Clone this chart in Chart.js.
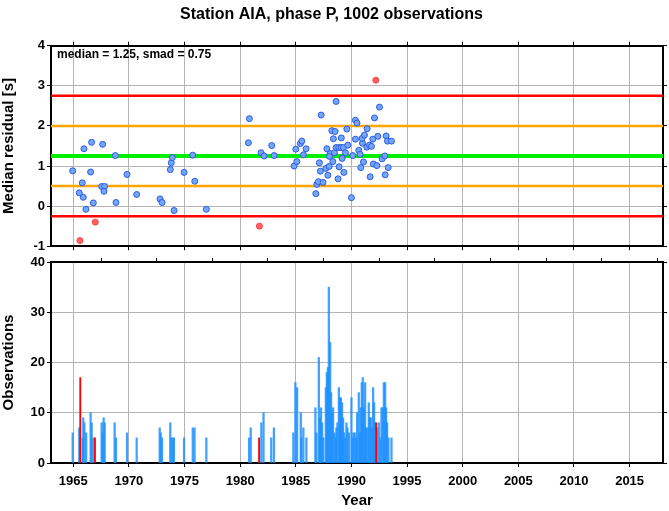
<!DOCTYPE html>
<html>
<head>
<meta charset="utf-8">
<script src="https://cdn.jsdelivr.net/npm/chart.js@4.4.1/dist/chart.umd.min.js"></script>
<style>
  body { margin: 0; background: #fff; }
  #wrap { position: relative; width: 669px; height: 511px; }
  #wrap canvas { position: absolute; left: 0; }
  #residChart { top: 0; }
  #obsChart { top: 250px; }
</style>
</head>
<body>
<div id="wrap">
  <canvas id="residChart" width="669" height="256"></canvas>
  <canvas id="obsChart" width="669" height="261"></canvas>
</div>
<script>
// median residual per time bin (blue points)
const residYears = [1964.95, 1965.96, 1966.65, 1967.64, 1968.78, 1966.56, 1965.81, 1965.54, 1965.90, 1966.80,
  1966.14, 1967.55, 1967.82, 1967.76, 1968.84, 1969.83, 1970.70, 1972.80, 1972.98, 1973.72,
  1973.81, 1973.90, 1974.06, 1974.96, 1975.74, 1975.92, 1976.96, 1980.83, 1980.74, 1981.88,
  1982.15, 1982.84, 1983.05, 1984.85, 1985.09, 1985.00, 1985.41, 1985.54, 1985.93, 1985.68,
  1986.80, 1986.89, 1987.03, 1987.45, 1987.12, 1987.21, 1987.28, 1987.70, 1987.88, 1988.00,
  1987.79, 1988.08, 1988.02, 1988.24, 1988.53, 1988.38, 1988.33, 1988.47, 1988.62, 1988.80,
  1988.89, 1989.09, 1989.16, 1989.32, 1988.62, 1988.86, 1989.07, 1989.28, 1989.46, 1989.59,
  1989.67, 1990.00, 1990.12, 1990.36, 1990.50, 1990.36, 1990.66, 1990.78, 1990.84, 1991.08,
  1990.99, 1990.96, 1991.17, 1991.41, 1991.38, 1991.62, 1991.68, 1991.80, 1991.92, 1991.98,
  1992.07, 1992.28, 1992.37, 1992.52, 1992.76, 1993.00, 1993.03, 1993.12, 1993.24, 1993.30,
  1993.60];
const residValues = [0.88, 1.43, 1.59, 1.54, 1.26, 0.85, 0.58, 0.33, 0.22, 0.08,
  -0.08, 0.49, 0.49, 0.37, 0.09, 0.79, 0.29, 0.18, 0.09, 0.91,
  1.08, 1.21, -0.11, 0.84, 1.27, 0.62, -0.08, 2.18, 1.58, 1.33,
  1.25, 1.51, 1.26, 1.00, 1.11, 1.42, 1.56, 1.62, 1.43, 1.28,
  0.31, 0.54, 0.61, 0.59, 1.08, 0.87, 2.27, 0.94, 0.77, 0.99,
  1.43, 1.31, 1.24, 1.88, 1.86, 1.68, 1.11, 1.33, 2.61, 0.68,
  0.98, 1.70, 1.19, 0.84, 1.46, 1.46, 1.46, 1.46, 1.33, 1.92,
  1.52, 0.21, 1.26, 2.14, 2.07, 1.67, 1.39, 1.29, 0.96, 1.10,
  1.57, 1.69, 1.77, 1.93, 1.47, 1.52, 0.73, 1.49, 1.67, 1.05,
  2.20, 1.01, 1.74, 2.47, 1.18, 1.25, 0.78, 1.75, 1.62, 0.96,
  1.62];

// bins outside median +/- 2 smad (red points)
const outlierYears = [1965.60, 1966.98, 1981.73, 1992.19];
const outlierValues = [-0.86, -0.40, -0.50, 3.14];

const median = 1.25;
const smad = 0.75;
const refLevels = [2.75, 2.0, 1.25, 0.5, -0.25];
const refColors = ['#ff0000', '#ffa500', '#00ee00', '#ffa500', '#ff0000'];
const refWidths = [2.5, 2.5, 4, 2.5, 2.5];

// observations per bin
const obsYears = [1964.95, 1965.54, 1965.85, 1965.90, 1966.00, 1966.16, 1966.56, 1966.65, 1966.80, 1967.55,
  1967.64, 1967.73, 1967.82, 1968.72, 1968.84, 1969.83, 1970.70, 1972.77, 1972.86, 1972.98,
  1973.72, 1973.81, 1973.96, 1974.05, 1974.96, 1975.74, 1975.90, 1976.96, 1980.80, 1980.95,
  1981.90, 1982.10, 1982.79, 1983.03, 1984.78, 1984.96, 1985.12, 1985.45, 1985.50, 1985.68,
  1985.95, 1986.76, 1986.85, 1987.07, 1987.16, 1987.27, 1987.37, 1987.48, 1987.70, 1987.79,
  1987.88, 1987.97, 1988.09, 1988.17, 1988.26, 1988.35, 1988.47, 1988.56, 1988.65, 1988.74,
  1988.87, 1988.96, 1989.05, 1989.16, 1989.25, 1989.34, 1989.46, 1989.55, 1989.64, 1989.77,
  1990.00, 1990.09, 1990.18, 1990.30, 1990.42, 1990.51, 1990.66, 1990.75, 1990.84, 1990.93,
  1991.02, 1991.11, 1991.23, 1991.32, 1991.44, 1991.56, 1991.65, 1991.74, 1991.86, 1991.95,
  1992.04, 1992.13, 1992.31, 1992.46, 1992.58, 1992.70, 1992.82, 1992.91, 1993.03, 1993.12,
  1993.21, 1993.33, 1993.60];
const obsCounts = [6, 7, 5, 9, 8, 6, 10, 8, 5, 8,
  6, 9, 8, 8, 5, 6, 5, 7, 6, 5,
  8, 5, 5, 5, 5, 7, 7, 5, 5, 7,
  8, 10, 5, 7, 6, 16, 15, 10, 5, 7,
  5, 11, 6, 21, 9, 11, 8, 5, 15, 18,
  19, 35, 24, 14, 10, 11, 6, 5, 7, 8,
  15, 13, 13, 12, 9, 6, 5, 8, 7, 6,
  13, 5, 6, 6, 5, 10, 14, 6, 11, 16,
  17, 11, 16, 7, 7, 12, 9, 9, 7, 15,
  12, 8, 7, 8, 5, 11, 11, 16, 16, 11,
  8, 5, 5];
const outlierObsYears = [1965.63, 1966.95, 1981.70, 1992.22];
const outlierObsCounts = [17, 5, 5, 8];

const xTickValues = [1965, 1970, 1975, 1980, 1985, 1990, 1995, 2000, 2005, 2010, 2015];
const xMin = 1963;
const xMax = 2018;

Chart.defaults.font.family = '"Liberation Sans", Arial, Helvetica, sans-serif';
Chart.defaults.color = '#000';

function toPoints(xs, ys) {
  return xs.map((x, i) => ({ x: x, y: ys[i] }));
}

const tickFont = { size: 13, weight: 'bold' };
const gridStyle = { color: '#b4b4b4', lineWidth: 1, tickColor: '#000', tickLength: 4 };
const borderStyle = { display: true, color: '#000', width: 2 };

function setXTicks(scale) {
  scale.ticks = xTickValues.map(v => ({ value: v }));
}

// frame axes on top / right, only for the border and the small outside ticks
function frameX(extra) {
  return Object.assign({
    type: 'linear', position: 'top', min: xMin, max: xMax,
    afterBuildTicks: setXTicks,
    ticks: { display: false },
    grid: { drawOnChartArea: false, tickColor: '#000', tickLength: 4 },
    border: borderStyle,
    afterFit: s => { s.height = 0; }
  }, extra || {});
}
function frameY(min, max, step) {
  return {
    type: 'linear', position: 'right', min: min, max: max,
    ticks: { display: false, stepSize: step },
    grid: { drawOnChartArea: false, tickColor: '#000', tickLength: 4 },
    border: borderStyle,
    afterFit: s => { s.width = 0; }
  };
}

const statsLabel = {
  id: 'statsLabel',
  afterDraw(chart) {
    const ctx = chart.ctx;
    const area = chart.chartArea;
    ctx.save();
    ctx.font = 'bold 12px "Liberation Sans", Arial, sans-serif';
    ctx.fillStyle = '#000';
    ctx.textBaseline = 'top';
    ctx.fillText('median = ' + median.toFixed(2) + ', smad = ' + smad.toFixed(2), area.left + 6, area.top + 3);
    ctx.restore();
  }
};

const refDatasets = refLevels.map((lvl, i) => ({
  type: 'line',
  data: [{ x: xMin, y: lvl }, { x: xMax, y: lvl }],
  borderColor: refColors[i],
  borderWidth: refWidths[i],
  pointRadius: 0,
  showLine: true
}));

const residChart = new Chart(document.getElementById('residChart'), {
  type: 'scatter',
  data: {
    datasets: [
      {
        data: toPoints(outlierYears, outlierValues),
        backgroundColor: '#ff6464',
        borderColor: '#ff4040',
        borderWidth: 1,
        pointRadius: 3
      },
      {
        data: toPoints(residYears, residValues),
        backgroundColor: '#74a6f8',
        borderColor: '#2c5be6',
        borderWidth: 1,
        pointRadius: 3
      }
    ].concat(refDatasets)
  },
  options: {
    responsive: false,
    animation: false,
    layout: { padding: { left: 0, right: 6, top: 0, bottom: 0 } },
    plugins: {
      legend: { display: false },
      tooltip: { enabled: false },
      title: {
        display: true,
        text: 'Station AIA, phase P, 1002 observations',
        font: { size: 16, weight: 'bold' },
        color: '#000',
        padding: { top: 5, bottom: 21.5 }
      }
    },
    scales: {
      x: {
        type: 'linear', min: xMin, max: xMax,
        afterBuildTicks: setXTicks,
        ticks: { display: false },
        grid: gridStyle,
        border: borderStyle,
        afterFit: s => { s.height = 9; }
      },
      y: {
        type: 'linear', min: -1, max: 4,
        ticks: { stepSize: 1, font: tickFont, padding: 2 },
        grid: gridStyle,
        border: borderStyle,
        title: { display: true, text: 'Median residual [s]', font: { size: 15, weight: 'bold' }, padding: { top: 0, bottom: 0 } },
        afterFit: s => { s.width = 51; }
      },
      x2: frameX(),
      y2: frameY(-1, 4, 1)
    }
  },
  plugins: [statsLabel]
});

const obsChart = new Chart(document.getElementById('obsChart'), {
  type: 'bar',
  data: {
    datasets: [
      {
        data: toPoints(outlierObsYears, outlierObsCounts),
        backgroundColor: '#ff0000',
        barThickness: 1.2,
        grouped: false
      },
      {
        data: toPoints(obsYears, obsCounts),
        backgroundColor: 'rgba(30,144,255,0.85)',
        barThickness: 1.6,
        grouped: false
      }
    ]
  },
  options: {
    responsive: false,
    animation: false,
    layout: { padding: { left: 0, right: 6, top: 12, bottom: 0 } },
    plugins: { legend: { display: false }, tooltip: { enabled: false } },
    scales: {
      x: {
        type: 'linear', min: xMin, max: xMax, offset: false,
        afterBuildTicks: setXTicks,
        ticks: { font: tickFont, padding: 7, maxRotation: 0, callback: v => String(v) },
        grid: Object.assign({ offset: false }, gridStyle),
        border: borderStyle,
        title: { display: true, text: 'Year', font: { size: 15, weight: 'bold' }, padding: { top: 0, bottom: 1 } },
        afterFit: s => { s.height = 48; }
      },
      y: {
        type: 'linear', min: 0, max: 40,
        ticks: { stepSize: 10, font: tickFont, padding: 2 },
        grid: gridStyle,
        border: borderStyle,
        title: { display: true, text: 'Observations', font: { size: 15, weight: 'bold' }, padding: { top: 0, bottom: 0 } },
        afterFit: s => { s.width = 51; }
      },
      x2: frameX({ offset: false }),
      y2: frameY(0, 40, 10)
    }
  }
});
</script>
</body>
</html>
